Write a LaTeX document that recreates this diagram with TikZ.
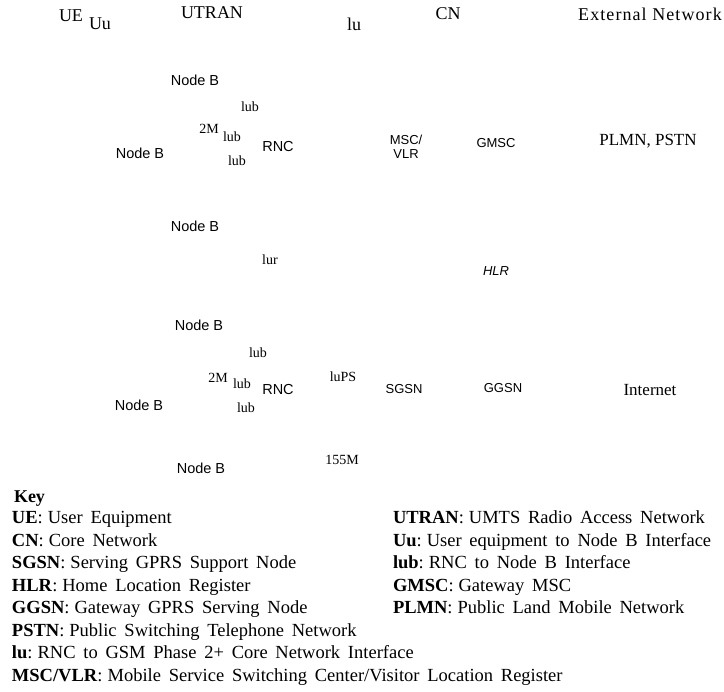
\documentclass[tikz,border=0pt]{standalone}
\usepackage{fontspec}
\setmainfont{Liberation Serif}
\newfontfamily\arialfont{Liberation Sans}
% legend lines: wide spaces between words, a plain space after the colon
\newcommand\legendfont{\fontsize{18.5}{22}\selectfont\spaceskip=0.42em plus 0.1em minus 0.05em\relax}
\newcommand\legendentry[2]{\textbf{#1}:\hspace{0.27em}#2}
\begin{document}
\begin{tikzpicture}[x=1pt,y=-1pt,
  every node/.style={inner sep=0pt, outer sep=0pt},
  region/.style={font=\fontsize{18}{20}\selectfont},
  ext/.style={font=\fontsize{17}{20}\selectfont},
  ran/.style={font=\arialfont\fontsize{14.5}{16}\selectfont},
  core/.style={font=\arialfont\fontsize{13}{13.5}\selectfont, align=center},
  iface/.style={font=\fontsize{14}{16}\selectfont},
  keyline/.style={anchor=base west, font=\legendfont}]
\useasboundingbox (0,0) rectangle (724,692);

% domain headings
\node[region] (ue)    at (71,16)  {UE};
\node[region] (uu)    at (100,24) {Uu};
\node[region] (utran) at (212,13) {UTRAN};
\node[region] (iu)    at (354,24) {lu};
\node[region] (cn)    at (448,14) {CN};
\node[region] (extnet) at (650,14) {\addfontfeature{LetterSpace=6}External Network};

% circuit-switched RNC cluster
\node[ran]   (nb1)   at (195,80)  {Node B};
\node[iface] (iub1)  at (250,107) {lub};
\node[iface] (twoM1) at (209,129) {2M};
\node[iface] (iub2)  at (232,137) {lub};
\node[ran]   (rnc1)  at (278,147) {RNC};
\node[ran]   (nb2)   at (140,153) {Node B};
\node[iface] (iub3)  at (237,161) {lub};
\node[core]  (msc)   at (406,147) {MSC/\\VLR};
\node[core]  (gmsc)  at (496,143) {GMSC};
\node[ext]   (pstn)  at (648,141) {PLMN, PSTN};

% middle
\node[ran]   (nb3)   at (195,226) {Node B};
\node[iface] (iur)   at (270,260) {lur};
\node[core,font=\arialfont\itshape\fontsize{13}{13.5}\selectfont] (hlr) at (496,271) {HLR};

% packet-switched RNC cluster
\node[ran]   (nb4)   at (199,325) {Node B};
\node[iface] (iub4)  at (258,353) {lub};
\node[iface] (twoM2) at (218,378) {2M};
\node[iface] (iub5)  at (242,384) {lub};
\node[ran]   (rnc2)  at (278,390) {RNC};
\node[ran]   (nb5)   at (139,405) {Node B};
\node[iface] (iub6)  at (246,408) {lub};
\node[iface] (iups)  at (343,377) {luPS};
\node[core]  (sgsn)  at (404,389) {SGSN};
\node[core]  (ggsn)  at (503,388) {GGSN};
\node[ext]   (inet)  at (650,390) {Internet};
\node[iface] (m155)  at (342,460) {155M};
\node[ran]   (nb6)   at (201,468) {Node B};

% legend
\node[anchor=base west, font=\fontsize{18}{22}\selectfont\bfseries] (key) at (14,503) {Key};
\node[keyline] (k1) at (12,524)   {\legendentry{UE}{User Equipment}};
\node[keyline] (k2) at (12,546.5) {\legendentry{CN}{Core Network}};
\node[keyline] (k3) at (12,569)   {\legendentry{SGSN}{Serving GPRS Support Node}};
\node[keyline] (k4) at (12,591.5) {\legendentry{HLR}{Home Location Register}};
\node[keyline] (k5) at (12,614)   {\legendentry{GGSN}{Gateway GPRS Serving Node}};
\node[keyline] (k6) at (12,636.5) {\legendentry{PSTN}{Public Switching Telephone Network}};
\node[keyline] (k7) at (12,659)   {\legendentry{lu}{RNC to GSM Phase 2+ Core Network Interface}};
\node[keyline] (k8) at (12,681.5) {\legendentry{MSC/VLR}{Mobile Service Switching Center/Visitor Location Register}};
\node[keyline] (k9)  at (393,524)   {\legendentry{UTRAN}{UMTS Radio Access Network}};
\node[keyline] (k10) at (393,546.5) {\legendentry{Uu}{User equipment to Node B Interface}};
\node[keyline] (k11) at (393,569)   {\legendentry{lub}{RNC to Node B Interface}};
\node[keyline] (k12) at (393,591.5) {\legendentry{GMSC}{Gateway MSC}};
\node[keyline] (k13) at (393,614)   {\legendentry{PLMN}{Public Land Mobile Network}};
\end{tikzpicture}
\end{document}
